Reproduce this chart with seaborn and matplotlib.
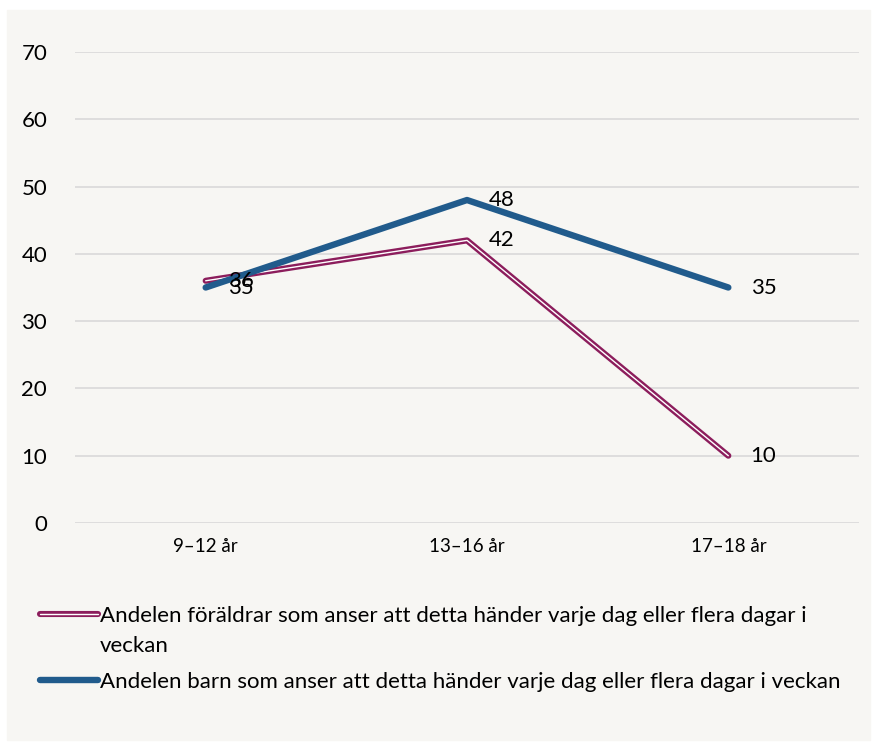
import matplotlib.pyplot as plt
import matplotlib.patheffects as pe
from matplotlib.legend_handler import HandlerLine2D
from matplotlib.lines import Line2D
from matplotlib.patches import Rectangle
import pandas as pd
import seaborn as sns

categories = ["9–12 år", "13–16 år", "17–18 år"]
foraldrar = [36, 42, 10]
barn = [35, 48, 35]
label_foraldrar = "Andelen föräldrar som anser att detta händer varje dag eller flera dagar i\nveckan"
label_barn = "Andelen barn som anser att detta händer varje dag eller flera dagar i veckan"

purple = "#8c1d5c"
blue = "#215b8c"
bg = "#f7f6f3"


class RaisedHandler(HandlerLine2D):
    # puts the legend line next to the first row of a wrapped label
    def __init__(self, dy, **kw):
        super().__init__(**kw)
        self.dy = dy

    def create_artists(self, legend, orig_handle, xdescent, ydescent, width, height, fontsize, trans):
        return super().create_artists(legend, orig_handle, xdescent, ydescent - 2 * self.dy,
                                      width, height, fontsize, trans)


sns.set_style("white")
plt.rcParams["font.family"] = ["Lato", "DejaVu Sans"]
plt.rcParams["text.color"] = "black"
plt.rcParams["xtick.color"] = "black"
plt.rcParams["ytick.color"] = "black"

fig = plt.figure(figsize=(8.76, 7.45), dpi=100, facecolor="white")
fig.patches.append(Rectangle((7 / 876, 5 / 745), 863 / 876, 730 / 745,
                             transform=fig.transFigure, color=bg, zorder=-10))
ax = fig.add_axes([75 / 876, 1 - 523 / 745, 784 / 876, 471 / 745])
ax.set_facecolor(bg)

df = pd.DataFrame({"kat": range(len(categories)), "foraldrar": foraldrar, "barn": barn})

double = [pe.Stroke(linewidth=4.4, foreground=purple), pe.Normal()]
sns.lineplot(x="kat", y="foraldrar", data=df, ax=ax, color="white", lw=1.0,
             path_effects=double, solid_capstyle="round", zorder=3)
sns.lineplot(x="kat", y="barn", data=df, ax=ax, color=blue, lw=4.6,
             solid_capstyle="round", zorder=4)

for i in range(len(categories)):
    ax.annotate(str(foraldrar[i]), (i, foraldrar[i]), xytext=(16, 0),
                textcoords="offset points", va="center", ha="left", fontsize=16, zorder=5)
    ax.annotate(str(barn[i]), (i, barn[i]), xytext=(16, 0),
                textcoords="offset points", va="center", ha="left", fontsize=16, zorder=5)

ax.set_xlim(-0.5, 2.5)
ax.set_ylim(0, 70)
ax.set_yticks(range(0, 71, 10))
ax.set_xticks(range(len(categories)))
ax.set_xticklabels(categories, fontsize=13.5)
ax.tick_params(axis="y", labelsize=16, length=0, pad=20)
ax.tick_params(axis="x", length=0, pad=11)
ax.grid(axis="y", color="#d9d9d9", lw=1.2)
ax.set_axisbelow(True)
for s in ax.spines.values():
    s.set_visible(False)
ax.set_xlabel("")
ax.set_ylabel("")

h1 = Line2D([], [], color="white", lw=1.0, solid_capstyle="round",
            path_effects=[pe.Stroke(linewidth=4.4, foreground=purple), pe.Normal()])
h2 = Line2D([], [], color=blue, lw=4.6, solid_capstyle="round")
leg = fig.legend([h1, h2], [label_foraldrar, label_barn], loc="upper left",
                 bbox_to_anchor=(20 / 876, 1 - 586 / 745), frameon=False, fontsize=16,
                 handlelength=2.6, handletextpad=0.1, labelspacing=0.75,
                 handler_map={h1: RaisedHandler(12.5)})
plt.setp(leg.get_texts(), linespacing=1.6)

plt.savefig("out.png", dpi=100, facecolor="white")
